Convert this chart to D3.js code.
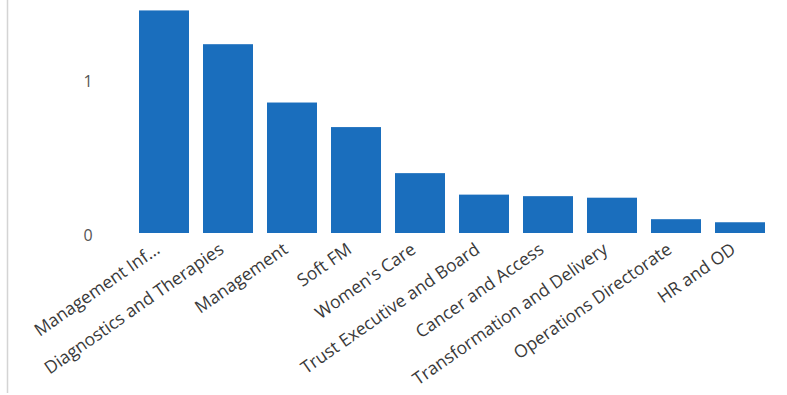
<!DOCTYPE html>
<html>
<head>
<meta charset="utf-8">
<script src="https://cdn.jsdelivr.net/npm/d3@7"></script>
<style>
  html, body { margin: 0; padding: 0; background: #fff; }
  svg { display: block; }
  text { font-family: "Open Sans", "Segoe UI", sans-serif; }
</style>
</head>
<body>
<svg id="chart" width="787" height="395"></svg>
<script>
// Directorates and their values
const categories = [
  "Management Inf...",
  "Diagnostics and Therapies",
  "Management",
  "Soft FM",
  "Women's Care",
  "Trust Executive and Board",
  "Cancer and Access",
  "Transformation and Delivery",
  "Operations Directorate",
  "HR and OD"
];
const values = [1.45, 1.23, 0.85, 0.69, 0.39, 0.25, 0.24, 0.23, 0.09, 0.07];
const yTicks = [0, 1];

const svg = d3.select("#chart");

// thin frame line on the left edge
svg.append("line")
  .attr("x1", 7.5).attr("x2", 7.5)
  .attr("y1", 0).attr("y2", 393)
  .attr("stroke", "#d4d4d4").attr("stroke-width", 1.5);

const x = d3.scaleBand()
  .domain(categories)
  .range([132, 772])
  .paddingInner(0.21875)
  .paddingOuter(0.109375);

const y = d3.scaleLinear()
  .domain([0, 1.5])
  .range([233, 2.75]);

// bars
svg.append("g")
  .selectAll("rect")
  .data(categories.map((c, i) => ({ c, v: values[i] })))
  .join("rect")
  .attr("x", d => x(d.c))
  .attr("y", d => y(d.v))
  .attr("width", x.bandwidth())
  .attr("height", d => y(0) - y(d.v))
  .attr("fill", "#1a6ebd");

// y axis (labels only)
const yAxis = svg.append("g")
  .attr("transform", "translate(95,0)")
  .call(d3.axisLeft(y).tickValues(yTicks).tickFormat(d3.format("d")).tickSize(0).tickPadding(0));
yAxis.select(".domain").remove();
yAxis.selectAll("text")
  .attr("fill", "#555")
  .style("font-size", "16px")
  .attr("text-anchor", "middle")
  .attr("x", -7)
  .attr("dy", "0.45em");

// x axis labels, rotated
const xAxis = svg.append("g")
  .attr("transform", `translate(0,${y(0)})`)
  .call(d3.axisBottom(x).tickSize(0).tickPadding(0));
xAxis.select(".domain").remove();
xAxis.selectAll("text")
  .attr("fill", "#3a3a3a")
  .style("font-size", "17.5px")
  .attr("text-anchor", "end")
  .attr("dy", null)
  .attr("y", 0)
  .attr("transform", "translate(-3,19) rotate(-35)");
</script>
</body>
</html>
